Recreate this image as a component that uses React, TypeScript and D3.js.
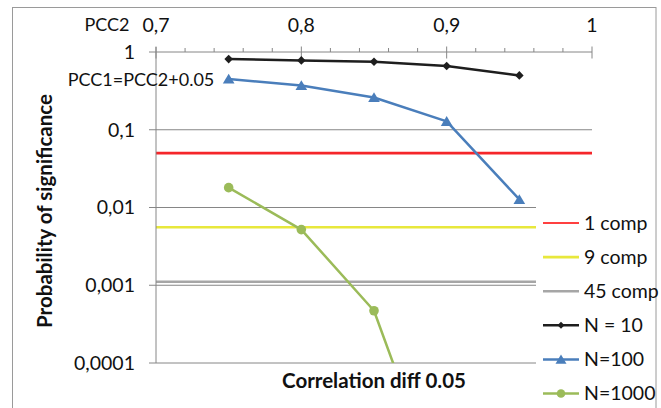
import * as d3 from 'd3';
import React from 'react';

// PCC2 values on the top axis
const pcc2 = [0.75, 0.8, 0.85, 0.9, 0.95];

// probability of significance per sample size
const n10 = [0.81, 0.78, 0.75, 0.66, 0.5];
const n100 = [0.45, 0.37, 0.26, 0.128, 0.0127];
const n1000 = [0.018, 0.0052, 0.00047, 0.0000013];

// significance thresholds (0.05 / comparisons)
const thresholdLabels = ['1 comp', '9 comp', '45 comp'];
const thresholds = [0.05, 0.00556, 0.00111];

const xTicks = [0.7, 0.8, 0.9, 1];
const xMinorTicks = [0.72, 0.74, 0.76, 0.78, 0.82, 0.84, 0.86, 0.88, 0.92, 0.94, 0.96, 0.98];
const yTicks = [1, 0.1, 0.01, 0.001, 0.0001];

const seriesLabels = ['N = 10', 'N=100', 'N=1000'];

const FONT = 'Lato, "Open Sans", sans-serif';
const fmt = (v: number) => String(v).replace('.', ',');

const diamond = (r: number) => `M0,${-r}L${r},0L0,${r}L${-r},0Z`;
const triangle = (r: number) => `M0,${-r}L${r * 1.1},${r * 0.85}L${-r * 1.1},${r * 0.85}Z`;

export default function App() {
  const x = d3.scaleLinear().domain([0.7, 1]).range([156, 592]);
  const y = d3.scaleLog().domain([0.0001, 1]).range([363, 52]);

  const line = d3
    .line<[number, number]>()
    .x((d) => x(d[0]))
    .y((d) => y(d[1]));

  const thresholdColors = ['#f5262a', '#e8e83c', '#a6a6a6'];
  const seriesColors = ['#1e1e1e', '#4a7ebb', '#9bbb59'];
  const series = [n10, n100, n1000];

  const legendY = (i: number) => 223 + i * 34.1;

  return (
    <svg width={661} height={408} style={{ position: 'absolute', left: 0, top: 0, background: '#fff' }}>
      <defs>
        <clipPath id="plot">
          <rect x={156} y={40} width={440} height={323} />
        </clipPath>
      </defs>

      <rect x={12.5} y={7.5} width={643.5} height={420} fill="#fff" stroke="#9a9a9a" />

      {/* gridlines */}
      {yTicks.slice(1).map((t) => (
        <line key={t} x1={156} x2={592} y1={y(t)} y2={y(t)} stroke="#868686" strokeWidth={1} />
      ))}

      {/* threshold lines */}
      {thresholds.map((t, i) => (
        <line key={t} x1={156} x2={592} y1={y(t)} y2={y(t)} stroke={thresholdColors[i]} strokeWidth={2.6} />
      ))}

      {/* left axis */}
      <line x1={156} x2={156} y1={47} y2={363} stroke="#868686" />
      {yTicks.map((t) => (
        <g key={t}>
          <line x1={149} x2={156} y1={y(t)} y2={y(t)} stroke="#868686" />
          <text x={135} y={y(t)} dy="0.35em" textAnchor="end" fontFamily={FONT} fontSize={19.5} fill="#111">
            {fmt(t)}
          </text>
        </g>
      ))}

      {/* top axis */}
      <line x1={156} x2={592} y1={52} y2={52} stroke="#868686" />
      {xMinorTicks.map((t) => (
        <line key={t} x1={x(t)} x2={x(t)} y1={48} y2={52} stroke="#868686" />
      ))}
      {xTicks.map((t) => (
        <g key={t}>
          <line x1={x(t)} x2={x(t)} y1={46.5} y2={58.5} stroke="#868686" />
          <text x={x(t)} y={25} dy="0.35em" textAnchor="middle" fontFamily={FONT} fontSize={19.5} fill="#111">
            {fmt(t)}
          </text>
        </g>
      ))}
      <text x={107} y={25} dy="0.35em" textAnchor="middle" fontFamily={FONT} fontSize={18} fill="#111">
        PCC2
      </text>

      {/* series */}
      <g clipPath="url(#plot)">
        {series.map((s, i) => (
          <path
            key={i}
            d={line(s.map((v, j) => [pcc2[j], v] as [number, number])) || ''}
            fill="none"
            stroke={seriesColors[i]}
            strokeWidth={2.5}
            strokeLinejoin="round"
          />
        ))}
        {series.map((s, i) =>
          s.map((v, j) => {
            const tr = `translate(${x(pcc2[j])},${y(v)})`;
            if (i === 0) return <path key={`${i}-${j}`} transform={tr} d={diamond(4.3)} fill={seriesColors[i]} />;
            if (i === 1) return <path key={`${i}-${j}`} transform={tr} d={triangle(5.3)} fill={seriesColors[i]} />;
            return <circle key={`${i}-${j}`} cx={x(pcc2[j])} cy={y(v)} r={4.8} fill={seriesColors[i]} />;
          })
        )}
      </g>

      <text x={141} y={80} dy="0.35em" textAnchor="middle" fontFamily={FONT} fontSize={18} fill="#111">
        PCC1=PCC2+0.05
      </text>

      {/* axis titles */}
      <text
        transform="translate(45,211) rotate(-90)"
        textAnchor="middle"
        dy="0.35em"
        fontFamily={FONT}
        fontWeight="bold"
        fontSize={20.5}
        fill="#111"
      >
        Probability of significance
      </text>
      <text x={374} y={381} dy="0.35em" textAnchor="middle" fontFamily={FONT} fontWeight="bold" fontSize={20.5} fill="#111">
        Correlation diff 0.05
      </text>

      {/* legend */}
      <rect x={536} y={205} width={119} height={210} fill="#fff" />
      {thresholdLabels.map((lab, i) => (
        <g key={lab}>
          <line
            x1={543}
            x2={579}
            y1={legendY(i)}
            y2={legendY(i)}
            stroke={i === 0 ? '#ff0000' : thresholdColors[i]}
            strokeWidth={i === 0 ? 1.5 : 2.6}
          />
          <text x={584} y={legendY(i)} dy="0.35em" fontFamily={FONT} fontSize={19.5} fill="#111">
            {lab}
          </text>
        </g>
      ))}
      {seriesLabels.map((lab, i) => {
        const ly = legendY(i + 3);
        const tr = `translate(561,${ly})`;
        return (
          <g key={lab}>
            <line x1={543} x2={579} y1={ly} y2={ly} stroke={seriesColors[i]} strokeWidth={2.5} />
            {i === 0 && <path transform={tr} d={diamond(3.5)} fill={seriesColors[i]} />}
            {i === 1 && <path transform={tr} d={triangle(5)} fill={seriesColors[i]} />}
            {i === 2 && <circle cx={561} cy={ly} r={4.3} fill={seriesColors[i]} />}
            <text x={584} y={ly} dy="0.35em" fontFamily={FONT} fontSize={19.5} fill="#111">
              {lab}
            </text>
          </g>
        );
      })}
    </svg>
  );
}
